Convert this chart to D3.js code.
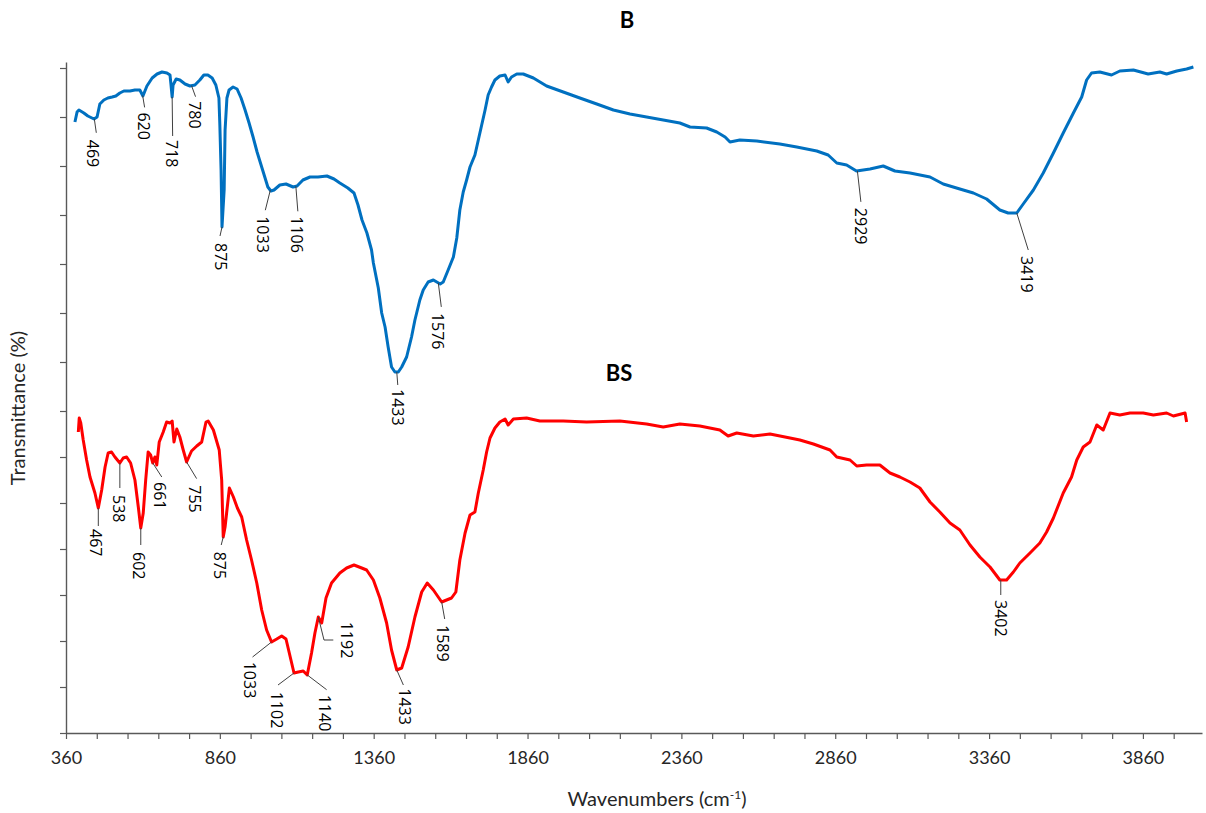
<!DOCTYPE html>
<html>
<head>
<meta charset="utf-8">
<script src="https://cdn.jsdelivr.net/npm/d3@7"></script>
<style>
  body { margin: 0; background: #fff; }
  svg { display: block; }
</style>
</head>
<body>
<svg id="chart" width="1206" height="813"></svg>
<script>
// spectrum B (wavenumber cm-1, transmittance a.u.)
const wnB = [389,396,402,418,431,451,461,470,483,496,510,522,535,548,568,584,600,610,623,640,656,672,688,698,701,705,708,718,730,747,763,779,795,808,821,835,847,857,860,864,867,874,877,883,890,903,916,929,942,955,968,981,994,1007,1016,1026,1036,1055,1075,1098,1111,1130,1153,1179,1208,1231,1250,1276,1296,1309,1322,1338,1353,1359,1375,1386,1397,1407,1418,1429,1440,1451,1467,1483,1494,1510,1521,1537,1554,1565,1576,1586,1602,1619,1630,1640,1651,1662,1673,1689,1700,1711,1722,1732,1743,1754,1770,1787,1797,1808,1825,1846,1879,1922,1976,2030,2085,2139,2193,2247,2301,2355,2388,2442,2475,2502,2518,2550,2605,2680,2735,2800,2837,2865,2897,2929,2973,3016,3054,3103,3168,3211,3265,3309,3352,3395,3422,3450,3471,3504,3536,3569,3601,3634,3661,3677,3693,3720,3758,3785,3829,3877,3915,3937,3970,4002,4024];
const tB = [122.2,124.2,124.6,124,123.4,122.8,123.2,125.8,126.6,127,127.2,127.4,128,128.4,128.4,128.6,128.6,127.4,129.4,131,131.8,132.2,132,131.6,129.8,127.2,129.6,130.8,130.6,129.8,129.4,129.6,130.6,131.6,131.6,131,129.6,127,121.6,112.6,101.2,108.6,120.6,127,128.6,129.2,128.8,127,124.6,122,119.2,116.2,113.6,111,109.2,108.4,108.6,109.6,109.8,109.2,109.4,110.6,111.2,111.2,111.4,110.8,110,109,108,105.6,102.6,100,96.6,94,89,84,81.2,77.2,73.2,72.2,72.2,73.2,75.2,79.2,82.6,86.6,88.6,90.2,90.6,90.2,89.8,90.2,92.6,95.2,99,104.6,108.2,110.6,113.2,115.6,118.6,121.6,124.6,127.6,129.2,130.6,131.4,131.6,130.2,131.2,131.8,131.8,131,129.4,128.2,127,125.8,124.6,123.8,123.2,122.6,122,121.2,121,120.2,119.2,118.2,118.6,118.4,117.8,117.2,116.4,115.6,114,113.6,112.4,112.8,113.4,112.4,112,111.2,109.8,108.8,108,106.8,104.6,104,104,105.8,108.6,112,116,120,124,127.2,130.6,132,132.2,131.6,132.4,132.6,131.8,132.2,131.8,132.4,132.8,133.2];

// spectrum BS
const wnBS = [400,403,408,416,427,438,454,465,476,487,497,508,519,535,546,557,570,584,595,603,611,619,627,635,642,649,655,663,676,687,698,705,711,720,730,741,752,768,785,801,815,822,839,858,866,871,877,882,891,904,917,931,947,963,980,996,1012,1028,1045,1061,1075,1088,1101,1115,1131,1144,1158,1169,1180,1191,1205,1223,1250,1272,1296,1321,1337,1359,1380,1402,1418,1435,1451,1472,1494,1516,1534,1554,1581,1613,1627,1640,1657,1673,1689,1700,1716,1727,1738,1754,1770,1787,1797,1814,1857,1900,1976,2052,2160,2247,2301,2355,2420,2485,2512,2540,2594,2648,2713,2745,2789,2843,2865,2908,2930,2962,3005,3038,3070,3103,3135,3168,3200,3233,3265,3298,3330,3363,3395,3417,3439,3460,3493,3525,3547,3569,3601,3628,3645,3666,3688,3710,3731,3753,3785,3818,3861,3894,3937,3959,3997,4002];
const tBS = [60.2,63,62,58.6,54.6,51.2,48,45,48.6,53.2,56,56.2,55.2,54,55,55.2,54,50.6,45.2,41,44,50.6,56.2,55.6,54,55.2,53.6,58.2,60.2,62.2,62,62.4,58.2,60.8,59.2,56.6,54.2,56.4,57.4,58.2,62.2,62.4,60.6,56.6,50.6,39.2,41.2,44,49,47.2,45,43.2,38.6,34.6,30,24.6,20.6,18.2,18.8,19.4,18.8,15.4,12,12.2,12.4,11.6,16,20,23.2,22,27,30,32,33,33.6,33,32.6,30.6,27,22,16.6,12.6,13,17.2,23.2,28.2,30,28.6,26.2,27,28.2,34.6,40,43.6,44.2,48,52.6,56.2,59,61,62.2,62.8,61.6,62.8,63,62.4,62.4,62.2,62.4,61.8,61.2,61.8,61.4,60.6,59.4,60,59.4,59.8,59,58.6,57.8,56.6,55.2,54.6,53.4,53.6,53.6,52,51.2,50.2,49,46.2,44.2,42,40.6,37.6,35.2,33.2,30.6,30.6,32.2,34,36,38,40.2,43,48,51.2,54.6,57.2,58.2,61.6,60.6,64,63.6,64,64,63.6,64,63.4,64,62.2];

// peak annotations: text and the wavenumber where the leader touches the curve
const bLabels = ["469","620","718","780","875","1033","1106","1433","1576","2929","3419"];
const bAnchors = [452,609,705,768,867,1024,1107,1435,1570,2932,3450];
const bsLabels = ["467","538","602","661","755","875","1033","1102","1140","1192","1433","1589","3402"];
const bsAnchors = [465,535,603,642,752,871,1028,1101,1143,1180,1435,1581,3398];

const seriesNames = ["B", "BS"];
const xTickLabels = ["360","860","1360","1860","2360","2860","3360","3860"];
const yTicks = [0,9.2,18.4,27.6,36.8,46,55.2,64.4,74.2,84,93.8,103.6,113.4,123.2,133];

// leader offsets / text offsets in px from anchor point
const bLayout = [
  { lead: [[2,14]], text: [-1,21] },
  { lead: [[2,12]], text: [1,17] },
  { lead: [[0.5,39]], text: [0,43] },
  { lead: [[4,11]], text: [3.5,15.5] },
  { lead: [[-2,9]], text: [-1,16] },
  { lead: [[-5,20]], text: [-7,26] },
  { lead: [[2,25]], text: [1.5,30] },
  { lead: [[1,13]], text: [1,17] },
  { lead: [[3,24]], text: [0,30] },
  { lead: [[3.5,31]], text: [3.5,37] },
  { lead: [[11.5,37]], text: [10.5,43] }
];
const bsLayout = [
  { lead: [[0,18]], text: [-2,21] },
  { lead: [[0,25]], text: [-0.5,32] },
  { lead: [[0,17]], text: [-2,24] },
  { lead: [[9,14]], text: [7.3,19] },
  { lead: [[10,16.6]], text: [8.3,23.3] },
  { lead: [[-2,8]], text: [-3,14.7] },
  { lead: [[-19,15]], text: [-21.7,19.7] },
  { lead: [[-16,12]], text: [-16.7,18.7] },
  { lead: [[19.7,15]], text: [18,20] },
  { lead: [[5.7,23],[15,23]], text: [28.4,4.7] },
  { lead: [[6.6,15]], text: [8.3,18.3] },
  { lead: [[3,17]], text: [1.6,23] },
  { lead: [[0,15]], text: [0,20] }
];

const svg = d3.select("#chart");
const x = d3.scaleLinear().domain([360, 4052]).range([66, 1202]);
const y = d3.scaleLinear().domain([0, 134.2]).range([733, 62]);

const axisColor = "#595959";
const fontAxis = "Lato, 'Open Sans', sans-serif";

// x axis
const xAxis = d3.axisBottom(x)
  .tickValues(d3.range(360, 4000, 100))
  .tickSize(6)
  .tickSizeOuter(0)
  .tickPadding(12)
  .tickFormat(d => xTickLabels.includes(String(d)) ? String(d) : "");
const gx = svg.append("g").attr("transform", "translate(0,733)").call(xAxis);
gx.select(".domain").attr("stroke", axisColor).attr("stroke-width", 1.4);
gx.selectAll(".tick line").attr("stroke", axisColor).attr("stroke-width", 1.2);
gx.selectAll(".tick text")
  .attr("fill", "#262626")
  .style("font-family", fontAxis)
  .style("font-size", "18px");

// y axis (no labels)
const yAxis = d3.axisLeft(y).tickValues(yTicks).tickSize(6).tickSizeOuter(0).tickFormat("");
const gy = svg.append("g").attr("transform", "translate(66,0)").call(yAxis);
gy.select(".domain").attr("stroke", axisColor).attr("stroke-width", 1.4);
gy.selectAll(".tick line").attr("stroke", axisColor).attr("stroke-width", 1.2);

// axis titles
const xt = svg.append("text")
  .attr("x", 657).attr("y", 806)
  .attr("text-anchor", "middle")
  .attr("fill", "#262626")
  .style("font-family", fontAxis)
  .style("font-size", "20px");
xt.append("tspan").text("Wavenumbers (cm");
xt.append("tspan").text("-1").attr("dy", -7).style("font-size", "12px");
xt.append("tspan").text(")").attr("dy", 7);

svg.append("text")
  .attr("transform", "translate(25,408) rotate(-90)")
  .attr("text-anchor", "middle")
  .attr("fill", "#262626")
  .style("font-family", fontAxis)
  .style("font-size", "20px")
  .text("Transmittance (%)");

// spectra
const line = d3.line().x(d => x(d[0])).y(d => y(d[1]));
const series = [
  { name: seriesNames[0], wn: wnB, t: tB, color: "#0070C0", labels: bLabels, anchors: bAnchors, layout: bLayout, title: [627, 28] },
  { name: seriesNames[1], wn: wnBS, t: tBS, color: "#FF0000", labels: bsLabels, anchors: bsAnchors, layout: bsLayout, title: [619, 381] }
];

series.forEach(s => {
  const pts = s.wn.map((w, i) => [w, s.t[i]]);
  svg.append("path")
    .datum(pts)
    .attr("d", line)
    .attr("fill", "none")
    .attr("stroke", s.color)
    .attr("stroke-width", 3)
    .attr("stroke-linejoin", "round");

  svg.append("text")
    .attr("x", s.title[0]).attr("y", s.title[1])
    .attr("text-anchor", "middle")
    .attr("fill", "#000")
    .style("font-family", fontAxis)
    .style("font-size", "22px")
    .style("font-weight", "bold")
    .text(s.name);

  const interp = w => {
    const i = d3.bisectLeft(s.wn, w);
    if (i <= 0) return s.t[0];
    if (i >= s.wn.length) return s.t[s.t.length - 1];
    const w0 = s.wn[i - 1], w1 = s.wn[i];
    return s.t[i - 1] + (s.t[i] - s.t[i - 1]) * (w - w0) / (w1 - w0);
  };

  s.labels.forEach((lab, i) => {
    const ax = x(s.anchors[i]);
    const ay = y(interp(s.anchors[i]));
    const lay = s.layout[i];
    const path = [[ax, ay]].concat(lay.lead.map(p => [ax + p[0], ay + p[1]]));
    svg.append("path")
      .attr("d", d3.line()(path))
      .attr("fill", "none")
      .attr("stroke", "#404040")
      .attr("stroke-width", 1);
    svg.append("text")
      .attr("transform", `translate(${ax + lay.text[0]},${ay + lay.text[1]}) rotate(90)`)
      .attr("dominant-baseline", "central")
      .attr("fill", "#000")
      .style("font-family", "'Open Sans', sans-serif")
      .style("font-size", "16px")
      .text(lab);
  });
});
</script>
</body>
</html>
